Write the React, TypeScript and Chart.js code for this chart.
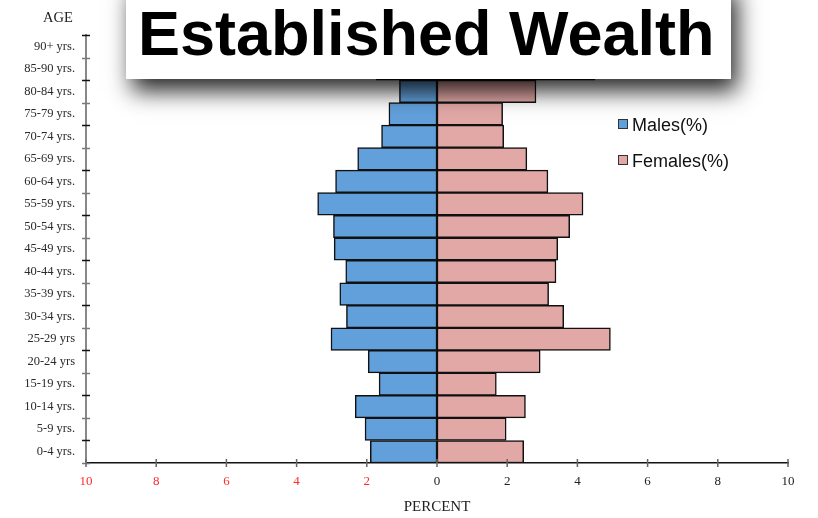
import React, { useEffect, useRef } from 'react';
import { Chart, registerables } from 'chart.js';

Chart.register(...registerables);

// Age groups, bottom (youngest) to top (oldest)
const ageGroups = [
  '0-4 yrs.', '5-9 yrs.', '10-14 yrs.', '15-19 yrs.', '20-24 yrs', '25-29 yrs',
  '30-34 yrs.', '35-39 yrs.', '40-44 yrs.', '45-49 yrs.', '50-54 yrs.', '55-59 yrs.',
  '60-64 yrs.', '65-69 yrs.', '70-74 yrs.', '75-79 yrs.', '80-84 yrs.', '85-90 yrs.', '90+ yrs.',
];

// Males plotted to the left (negative), females to the right
const malesPercent = [
  -1.9, -2.05, -2.33, -1.65, -1.96, -3.02, -2.58, -2.77, -2.6, -2.93, -2.95, -3.4,
  -2.89, -2.26, -1.58, -1.37, -1.07, -1.73, -1.2,
];
const femalesPercent = [
  2.47, 1.97, 2.52, 1.69, 2.94, 4.94, 3.61, 3.18, 3.39, 3.44, 3.78, 4.16,
  3.16, 2.56, 1.9, 1.87, 2.82, 4.5, 3.0,
];

const xTickValues = [-10, -8, -6, -4, -2, 0, 2, 4, 6, 8, 10];
const seriesNames = ['Males(%)', 'Females(%)'];
const seriesColors = ['#62a0dc', '#e2a8a6'];
const titleText = 'Established Wealth';
const xAxisTitle = 'PERCENT';
const yAxisTitle = 'AGE';

const SERIF = '"Liberation Serif", "Times New Roman", serif';
const SANS = '"Liberation Sans", Arial, sans-serif';

const decorPlugin = {
  id: 'decor',
  afterDraw(chart: any) {
    const ctx = chart.ctx;
    const { left, right, top, bottom } = chart.chartArea;
    const xScale = chart.scales.x;
    ctx.save();
    // y-axis tick marks at category boundaries
    const n = ageGroups.length;
    for (let i = 0; i <= n; i++) {
      const y = Math.round(top + ((bottom - top) * i) / n) + 0.5;
      ctx.strokeStyle = i % 2 === 0 ? '#111' : '#7a7a7a';
      ctx.lineWidth = 1.5;
      ctx.beginPath();
      ctx.moveTo(left - 4, y);
      ctx.lineTo(left + 4, y);
      ctx.stroke();
    }
    // x-axis tick marks
    xTickValues.forEach((v) => {
      const x = xScale.getPixelForValue(v);
      ctx.strokeStyle = '#666';
      ctx.lineWidth = 1.5;
      ctx.beginPath();
      ctx.moveTo(x, bottom - 4);
      ctx.lineTo(x, bottom + 4);
      ctx.stroke();
    });
    // AGE label
    ctx.fillStyle = '#222';
    ctx.font = `14.5px ${SERIF}`;
    ctx.textAlign = 'center';
    ctx.textBaseline = 'middle';
    ctx.fillText(yAxisTitle, left - 28, top - 17);
    // legend
    const lx = right - 170;
    const ly = top + 84;
    seriesNames.forEach((name, i) => {
      const y = ly + i * 36;
      ctx.fillStyle = seriesColors[i];
      ctx.fillRect(lx, y, 10, 10);
      ctx.strokeStyle = '#333';
      ctx.lineWidth = 1;
      ctx.strokeRect(lx + 0.5, y + 0.5, 9, 9);
      ctx.fillStyle = '#111';
      ctx.font = `18px ${SANS}`;
      ctx.textAlign = 'left';
      ctx.textBaseline = 'middle';
      ctx.fillText(name, lx + 14, y + 7);
    });
    ctx.restore();
  },
};

export default function App() {
  const canvasRef = useRef<HTMLCanvasElement | null>(null);

  useEffect(() => {
    const canvas = canvasRef.current;
    if (!canvas) return;
    const chart = new Chart(canvas, {
      type: 'bar',
      data: {
        labels: ageGroups,
        datasets: [
          {
            label: seriesNames[0],
            data: malesPercent,
            backgroundColor: seriesColors[0],
            borderColor: '#111',
            borderWidth: 1.5,
            borderSkipped: false,
            barPercentage: 1,
            categoryPercentage: 1,
            grouped: false,
          } as any,
          {
            label: seriesNames[1],
            data: femalesPercent,
            backgroundColor: seriesColors[1],
            borderColor: '#111',
            borderWidth: 1.5,
            borderSkipped: false,
            barPercentage: 1,
            categoryPercentage: 1,
            grouped: false,
          } as any,
        ],
      },
      options: {
        indexAxis: 'y',
        responsive: false,
        animation: false,
        layout: { padding: { left: 0, right: 30, top: 35, bottom: 0 } },
        plugins: {
          legend: { display: false },
          tooltip: { enabled: false },
          title: { display: false },
        },
        scales: {
          x: {
            type: 'linear',
            min: -10,
            max: 10,
            afterBuildTicks: (scale: any) => {
              scale.ticks = xTickValues.map((v) => ({ value: v }));
            },
            afterFit: (scale: any) => {
              scale.height = 55;
            },
            grid: { display: false },
            border: { display: true, color: '#111', width: 1.5 },
            ticks: {
              padding: 3,
              maxRotation: 0,
              autoSkip: false,
              font: { family: SERIF, size: 13 },
              color: (c: any) => (c.tick && c.tick.value < 0 ? '#ff2a2a' : '#222'),
              callback: (v: any) => String(Math.abs(Number(v))),
            },
            title: {
              display: true,
              text: xAxisTitle,
              font: { family: SERIF, size: 15 },
              color: '#222',
              padding: { top: 2, bottom: 2 },
            },
          },
          y: {
            type: 'category',
            reverse: true,
            afterFit: (scale: any) => {
              scale.width = 86;
            },
            grid: { display: false },
            border: { display: true, color: '#888', width: 2 },
            ticks: {
              padding: 3,
              autoSkip: false,
              font: { family: SERIF, size: 12.5 },
              color: '#2a2a2a',
            },
          },
        },
      },
      plugins: [decorPlugin],
    });
    return () => chart.destroy();
  }, []);

  return (
    <div style={{ position: 'fixed', left: 0, top: 0, width: 818, height: 518, background: '#fff', overflow: 'hidden' }}>
      <canvas ref={canvasRef} width={818} height={518} style={{ display: 'block' }} />
      <div
        style={{
          position: 'absolute',
          left: 126,
          top: -20,
          width: 605,
          height: 99,
          background: '#fff',
          boxShadow: '6px 12px 22px rgba(0,0,0,0.85)',
        }}
      >
        <span
          style={{
            position: 'absolute',
            left: 12,
            top: 22,
            fontFamily: SANS,
            fontWeight: 'bold',
            fontSize: 63,
            lineHeight: '63px',
            color: '#000',
            whiteSpace: 'nowrap',
          }}
        >
          {titleText}
        </span>
      </div>
    </div>
  );
}
